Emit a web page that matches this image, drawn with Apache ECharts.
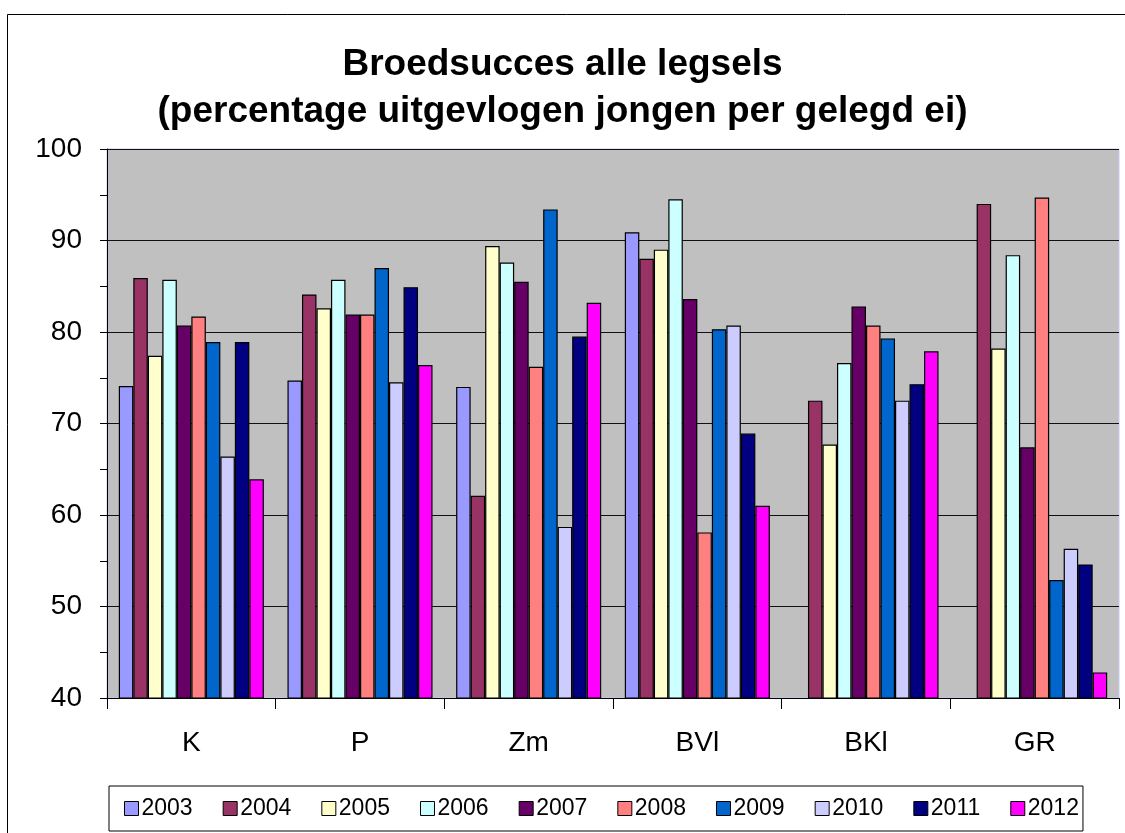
<!DOCTYPE html>
<html>
<head>
<meta charset="utf-8">
<script src="https://cdn.jsdelivr.net/npm/echarts@6/dist/echarts.min.js"></script>
<style>
  html, body { margin: 0; padding: 0; background: #fff; }
  #main { width: 1125px; height: 833px; }
</style>
</head>
<body>
<div id="main"></div>
<script>
const categories = ['K', 'P', 'Zm', 'BVl', 'BKl', 'GR']
const years = ['2003', '2004', '2005', '2006', '2007', '2008', '2009', '2010', '2011', '2012']
const yearColors = ['#9999ff', '#993366', '#ffffcc', '#ccffff', '#660066', '#ff8080', '#0066cc', '#ccccff', '#000080', '#ff00ff']

// values per year, in category order K, P, Zm, BVl, BKl, GR
const v2003 = [74.1, 74.7, 74.0, 90.9, null, null]
const v2004 = [85.9, 84.1, 62.1, 88.0, 72.5, 94.0]
const v2005 = [77.4, 82.6, 89.4, 89.0, 67.7, 78.2]
const v2006 = [85.7, 85.7, 87.6, 94.5, 76.6, 88.4]
const v2007 = [80.7, 81.9, 85.5, 83.6, 82.8, 67.4]
const v2008 = [81.7, 81.9, 76.2, 58.1, 80.7, 94.7]
const v2009 = [78.9, 87.0, 93.4, 80.3, 79.3, 52.9]
const v2010 = [66.4, 74.5, 58.7, 80.7, 72.5, 56.3]
const v2011 = [78.9, 84.9, 79.5, 68.9, 74.3, 54.6]
const v2012 = [63.9, 76.4, 83.2, 61.0, 77.9, 42.8]

const yearValues = [v2003, v2004, v2005, v2006, v2007, v2008, v2009, v2010, v2011, v2012]

const font = 'Liberation Sans, Arial, sans-serif'
const chart = echarts.init(document.getElementById('main'))

chart.setOption({
  backgroundColor: '#fff',
  animation: false,
  title: {
    text: 'Broedsucces alle legsels\n(percentage uitgevlogen jongen per gelegd ei)',
    left: 'center',
    top: 36,
    textStyle: {
      fontFamily: font,
      fontSize: 37,
      fontWeight: 'bold',
      color: '#000',
      lineHeight: 47
    }
  },
  legend: {
    data: years,
    left: 109,
    top: 786,
    padding: [11, 4, 11, 15],
    itemGap: 30,
    itemWidth: 14,
    itemHeight: 14,
    borderColor: '#000',
    borderWidth: 1,
    icon: 'rect',
    itemStyle: {
      borderColor: '#000',
      borderWidth: 1
    },
    textStyle: {
      fontFamily: font,
      fontSize: 23,
      color: '#000',
      padding: [0, 0, 0, -2]
    }
  },
  grid: {
    left: 107,
    right: 6,
    top: 149,
    bottom: 135,
    show: true,
    backgroundColor: '#c0c0c0',
    borderColor: '#c8c8f4',
    borderWidth: 1
  },
  xAxis: {
    type: 'category',
    data: categories,
    axisLine: { lineStyle: { color: '#000', width: 1 } },
    axisTick: { show: true, length: 11, lineStyle: { color: '#000' } },
    axisLabel: {
      margin: 31,
      fontFamily: font,
      fontSize: 28,
      color: '#000'
    }
  },
  yAxis: {
    type: 'value',
    min: 40,
    max: 100,
    interval: 10,
    axisLine: { show: true, lineStyle: { color: '#000', width: 1 } },
    axisTick: { show: true, length: 7, lineStyle: { color: '#000' } },
    minorTick: { show: true, splitNumber: 2, length: 7, lineStyle: { color: '#000' } },
    splitLine: { lineStyle: { color: '#111', width: 1 } },
    axisLabel: {
      margin: 25,
      fontFamily: font,
      fontSize: 28,
      color: '#000'
    }
  },
  series: years.map((y, i) => ({
    name: y,
    type: 'bar',
    data: yearValues[i],
    barGap: '0%',
    barCategoryGap: '14%',
    itemStyle: {
      color: yearColors[i],
      borderColor: '#000',
      borderWidth: 1.2
    }
  })),
  graphic: [{
    type: 'rect',
    shape: { x: 7.5, y: 14.5, width: 1300, height: 1000 },
    style: { fill: 'none', stroke: '#000', lineWidth: 1 },
    silent: true
  }]
})
</script>
</body>
</html>
